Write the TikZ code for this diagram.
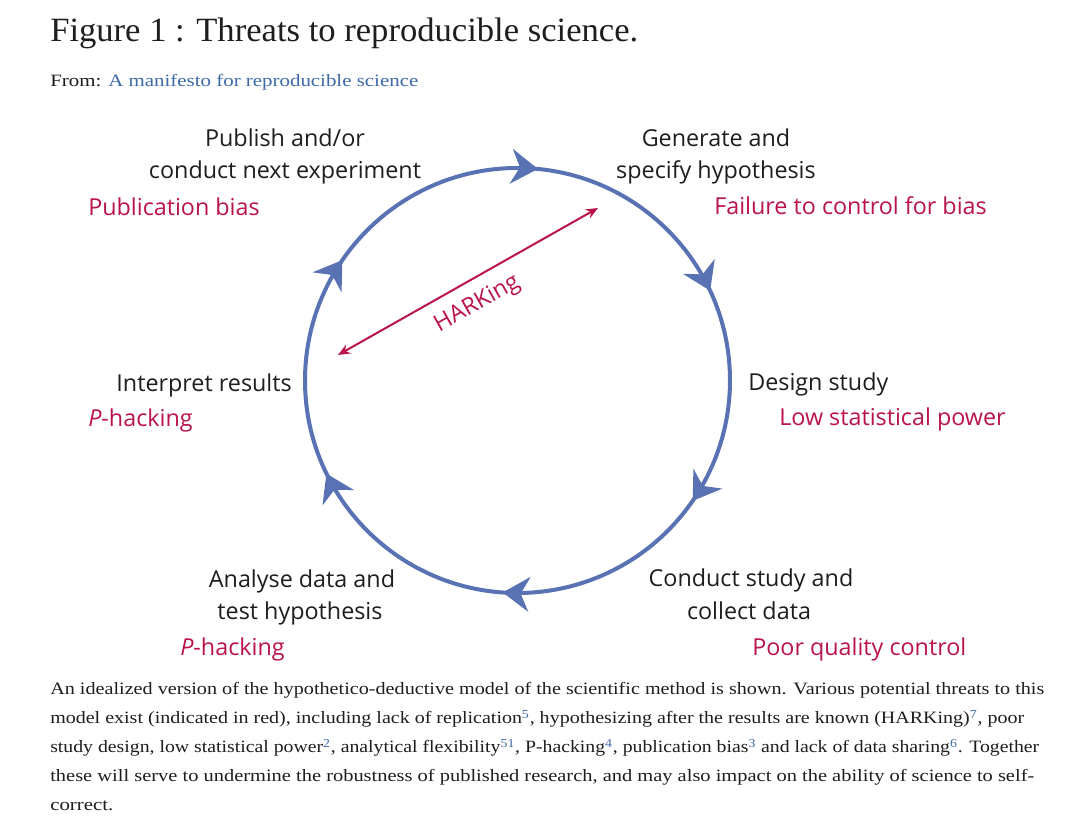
\documentclass[tikz,border=0pt]{standalone}
\usepackage{fontspec}
\usepackage{graphicx}
\setmainfont{Liberation Serif}
\newfontfamily\labfont{Open Sans}
\usetikzlibrary{arrows.meta,decorations.markings}
\definecolor{cycblue}{HTML}{5872B4}
\definecolor{threat}{HTML}{BA1448}
\definecolor{txt}{HTML}{1E1E1E}
\definecolor{linkblue}{HTML}{3C6AA8}
\newcommand{\sref}[1]{\textsuperscript{\textcolor{linkblue}{#1}}}
\tikzset{
  cyctip/.tip={Stealth[length=20pt,width=26pt,inset=6.5pt]},
  harktip/.tip={Stealth[length=9pt,width=7.5pt]}
}
\begin{document}
\begin{tikzpicture}[x=0.75pt,y=0.75pt,
  lab/.style={font=\labfont\fontsize{17.5}{24}\selectfont, text=txt, inner sep=0pt, anchor=base},
  labl/.style={lab, anchor=base west},
  labr/.style={lab, anchor=base east},
  threatl/.style={labl, text=threat},
  hark/.style={font=\labfont\fontsize{17.5}{24}\selectfont, text=threat, inner sep=0pt},
  captext/.style={font=\fontsize{13}{17}\selectfont, text=txt, inner sep=0pt, anchor=base west},
  cyc/.style={cycblue, line width=3pt}
]
\useasboundingbox (0,0) rectangle (1082,816);
\fill[white] (0,0) rectangle (1082,816);

% title and source
\node[inner sep=0pt, anchor=base west, text=txt, font=\fontsize{25.5}{30}\selectfont] (title) at (50,774)
  {\resizebox{441pt}{\height}{Figure 1 : Threats to reproducible science.}};
\node[captext] (from) at (50,729)
  {\resizebox{276pt}{\height}{From: \textcolor{linkblue}{A manifesto for reproducible science}}};

% cycle
\coordinate (c) at (517.5,435.5);
\draw[cyc, postaction={decorate}, decoration={markings,
    mark=at position 0.0153 with {\arrow{cyctip}},
    mark=at position 0.1806 with {\arrow{cyctip}},
    mark=at position 0.3458 with {\arrow{cyctip}},
    mark=at position 0.5111 with {\arrow{cyctip}},
    mark=at position 0.6778 with {\arrow{cyctip}},
    mark=at position 0.8458 with {\arrow{cyctip}}}]
  (c) ++(90:212.5) arc[start angle=90, end angle=-270, radius=212.5];

% HARKing
\coordinate (ha) at (338,461);
\coordinate (hb) at (598,608);
\draw[threat, line width=1.5pt, harktip-harktip] (ha) -- node[hark, sloped, pos=0.49, below=9pt] (harklab) {HARKing} (hb);

% stage labels
\node[lab] (pub1) at (285,669) {Publish and/or};
\node[lab] (pub2) at (285,637) {conduct next experiment};
\node[threatl] (pubbias) at (88,600) {Publication bias};

\node[lab] (gen1) at (716,669) {Generate and};
\node[lab] (gen2) at (716,637) {specify hypothesis};
\node[threatl] (failbias) at (714,601) {Failure to control for bias};

\node[labl] (design) at (748,425) {Design study};
\node[threatl] (lowpower) at (779,390) {Low statistical power};

\node[labr] (interp) at (292,424) {Interpret results};
\node[threatl] (phack1) at (88,389) {\textit{P}-hacking};

\node[lab] (ana1) at (302,228) {Analyse data and};
\node[lab] (ana2) at (300,196) {test hypothesis};
\node[threatl] (phack2) at (180,160) {\textit{P}-hacking};

\node[lab] (con1) at (751,229) {Conduct study and};
\node[lab] (con2) at (749,196) {collect data};
\node[threatl] (poorqc) at (752,160) {Poor quality control};

% caption
\node[captext] (cap1) at (50,121) {\resizebox{745.5pt}{\height}{An idealized version of the hypothetico-deductive model of the scientific method is shown. Various potential threats to this}};
\node[captext] (cap2) at (50,92) {\resizebox{730.5pt}{\height}{model exist (indicated in red), including lack of replication\sref{5}, hypothesizing after the results are known (HARKing)\sref{7}, poor}};
\node[captext] (cap3) at (50,63) {\resizebox{741.75pt}{\height}{study design, low statistical power\sref{2}, analytical flexibility\sref{51}, P-hacking\sref{4}, publication bias\sref{3} and lack of data sharing\sref{6}. Together}};
\node[captext] (cap4) at (50,34) {\resizebox{738pt}{\height}{these will serve to undermine the robustness of published research, and may also impact on the ability of science to self-}};
\node[captext] (cap5) at (50,5) {\resizebox{47.25pt}{\height}{correct.}};
\end{tikzpicture}
\end{document}
